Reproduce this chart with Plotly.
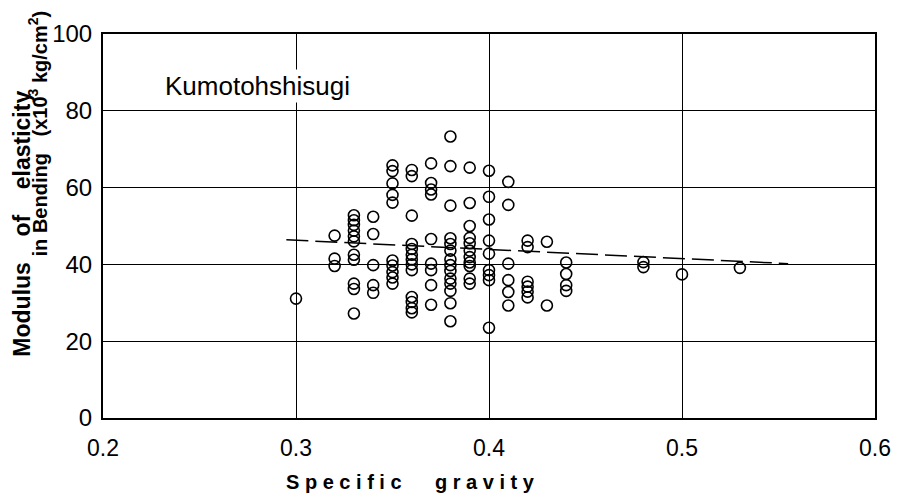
import plotly.graph_objects as go

# Specific gravity columns and modulus of elasticity readings (x10^3 kg/cm^2)
sg_030 = [31.1]
sg_032 = [47.5, 41.5, 39.6]
sg_033 = [52.8, 51.5, 50.3, 48.8, 47.3, 46.0, 42.5, 41.2, 35.0, 33.6, 27.2]
sg_034 = [52.4, 47.9, 39.8, 34.6, 32.6]
sg_035 = [65.8, 64.3, 61.1, 58.1, 56.1, 41.0, 39.7, 38.0, 36.6, 35.0]
sg_036 = [64.6, 63.0, 52.7, 45.3, 44.0, 42.5, 41.3, 40.0, 38.5, 31.5, 30.2, 28.6, 27.5]
sg_037 = [66.3, 61.2, 59.5, 58.2, 46.6, 40.2, 38.5, 34.6, 29.5]
sg_038 = [73.3, 65.6, 55.3, 46.8, 45.3, 43.6, 41.3, 39.8, 38.3, 36.3, 35.0, 33.1, 29.9, 25.2]
sg_039 = [65.2, 56.0, 50.0, 46.9, 45.5, 43.6, 41.9, 40.5, 39.6, 36.3, 35.0]
sg_040 = [64.4, 57.6, 51.7, 46.2, 42.8, 38.5, 37.2, 35.9, 23.5]
sg_041 = [61.5, 55.5, 40.2, 35.9, 32.8, 29.3]
sg_042 = [46.2, 44.5, 35.5, 34.2, 32.9, 31.4]
sg_043 = [45.9, 29.3]
sg_044 = [40.5, 37.5, 34.6, 33.1]
sg_048 = [40.6, 39.3]
sg_050 = [37.4]
sg_053 = [39.1]

columns = [
    (0.30, sg_030), (0.32, sg_032), (0.33, sg_033), (0.34, sg_034),
    (0.35, sg_035), (0.36, sg_036), (0.37, sg_037), (0.38, sg_038),
    (0.39, sg_039), (0.40, sg_040), (0.41, sg_041), (0.42, sg_042),
    (0.43, sg_043), (0.44, sg_044), (0.48, sg_048), (0.50, sg_050),
    (0.53, sg_053),
]

# regression line end points
fit_x = [0.295, 0.555]
fit_y = [46.4, 40.2]

x_ticks = [0.2, 0.3, 0.4, 0.5, 0.6]
x_labels = ["0.2", "0.3", "0.4", "0.5", "0.6"]
y_ticks = [0, 20, 40, 60, 80, 100]
y_labels = ["0", "20", "40", "60", "80", "100"]

xs, ys = [], []
for sg, vals in columns:
    for v in vals:
        xs.append(sg)
        ys.append(v)

fig = go.Figure()
fig.add_trace(go.Scatter(
    x=fit_x, y=fit_y, mode="lines",
    line=dict(color="black", width=1.5, dash="22px,7px"),
    hoverinfo="skip", showlegend=False,
))
fig.add_trace(go.Scatter(
    x=xs, y=ys, mode="markers",
    marker=dict(symbol="circle-open", size=11, color="black", line=dict(width=1.6)),
    showlegend=False,
))

font_family = "Liberation Sans, Arial, sans-serif"
fig.update_layout(
    width=895, height=490,
    margin=dict(l=95, r=20, t=21, b=80),
    paper_bgcolor="white", plot_bgcolor="white",
    font=dict(family=font_family, color="black"),
    xaxis=dict(
        range=[0.2, 0.6], tickvals=x_ticks, ticktext=x_labels,
        showgrid=True, gridcolor="black", gridwidth=1.2,
        showline=True, linecolor="black", linewidth=2, mirror=True,
        zeroline=False, ticks="", tickfont=dict(size=23),
        ticklabelstandoff=8,
    ),
    yaxis=dict(
        range=[0, 100], tickvals=y_ticks, ticktext=y_labels,
        showgrid=True, gridcolor="black", gridwidth=1.2,
        showline=True, linecolor="black", linewidth=2, mirror=True,
        zeroline=False, ticks="", tickfont=dict(size=24),
        ticklabelstandoff=4,
    ),
)

nb = "\u00a0"
fig.add_annotation(
    text="Kumotohshisugi", x=0.2, y=86.5, xref="x", yref="y",
    xshift=60, xanchor="left", yanchor="middle", showarrow=False,
    font=dict(size=26, family=font_family, color="black"),
    bgcolor="white",
)
fig.add_annotation(
    text=f"S{nb}p{nb}e{nb}c{nb}i{nb}f{nb}i{nb}c{nb*6}g{nb}r{nb}a{nb}v{nb}i{nb}t{nb}y",
    x=0.5, y=-0.167, xref="paper", yref="paper",
    xshift=-79, xanchor="center", yanchor="middle", showarrow=False,
    font=dict(size=20, family=font_family, color="black", weight="bold"),
)
fig.add_annotation(
    text=f"Modulus{nb*4}of{nb*4}elasticity", x=-0.105, y=0.506,
    xref="paper", yref="paper", textangle=-90, showarrow=False,
    xanchor="center", yanchor="middle",
    font=dict(size=23, family=font_family, color="black", weight="bold"),
)
fig.add_annotation(
    text=f"in{nb}Bending{nb*3}(x10<sup>3</sup>{nb}kg/cm<sup>2</sup>)", x=-0.085, y=0.742,
    xref="paper", yref="paper", textangle=-90, showarrow=False,
    xanchor="center", yanchor="middle",
    font=dict(size=20, family=font_family, color="black", weight="bold"),
)

fig.write_html("out.html")
